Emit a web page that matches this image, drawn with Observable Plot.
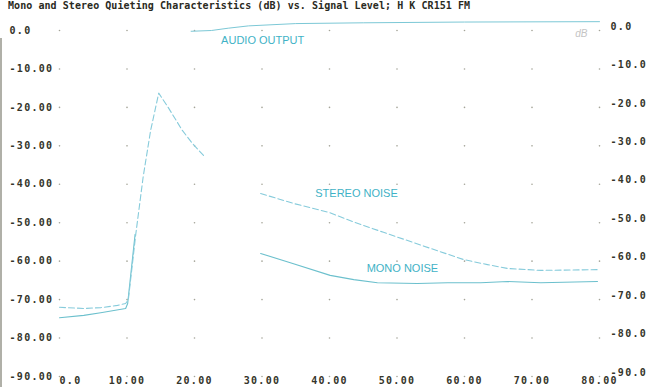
<!DOCTYPE html>
<html><head><meta charset="utf-8">
<script src="https://cdn.jsdelivr.net/npm/d3@7"></script>
<script src="https://cdn.jsdelivr.net/npm/@observablehq/plot@0.6"></script>
<style>
body{margin:0;background:#fff;width:650px;height:387px;overflow:hidden;position:relative}
#title{height:18px;line-height:19px;padding-left:8px;font:bold 10px "DejaVu Sans Mono",monospace;color:#2a2a22;white-space:nowrap;letter-spacing:0.06px}
svg{overflow:visible;display:block}
g[aria-label$="tick label"] text{letter-spacing:1.3px}
#edge{position:absolute;left:0;top:38px;width:1.5px;height:349px;background:#b0b0a8}
</style></head><body>
<div id="title">Mono and Stereo Quieting Characteristics (dB) vs. Signal Level; H K CR151 FM</div>
<div id="chart"></div>
<div id="edge"></div>
<script>
// tick values
const xTicks = [0, 10, 20, 30, 40, 50, 60, 70, 80];
const yTicks = [0, -10, -20, -30, -40, -50, -60, -70, -80, -90];

// Stereo noise (dashed) – NaN marks the faded gap in the print
const stereoX = [0, 3.6, 6.1, 8.6, 9.8, 10.2, 11.3, 12.4, 13.5, 14.7, 16.1, 18.2, 19.7, 21.6, 25, 29.8, 34.7, 39.9, 43.4, 48, 55, 59.9, 63.4, 66.4, 71.3, 79.7];
const stereoY = [-72, -72.3, -72.1, -71.5, -71, -70, -53, -38, -26, -16.3, -20, -26, -29.4, -33, NaN, -42.4, -45, -47.3, -49.7, -52.5, -56.7, -59.6, -60.9, -61.9, -62.4, -62.2];

// Mono noise (solid)
const monoX = [0, 3.6, 6.1, 9.8, 10.1, 11.2, 20, 29.8, 34.2, 40.1, 43.6, 47.1, 53, 57.5, 62.4, 66.4, 71.3, 79.7];
const monoY = [-74.7, -74.1, -73.4, -72.3, -71, -53, NaN, -58, -60.4, -63.7, -64.8, -65.6, -65.8, -65.6, -65.6, -65.3, -65.6, -65.3];

// Audio output
const audioX = [19.5, 22.5, 25, 28, 35, 45, 60, 80];
const audioY = [-0.2, 0, 0.6, 1.2, 1.8, 2.0, 2.2, 2.3];

// curve labels
const labelText = ["AUDIO OUTPUT", "STEREO NOISE", "MONO NOISE"];
const labelX = [30.1, 44, 50.8];
const labelY = [-2.6, -42.4, -62];

const stereo = stereoX.map((x, i) => ({x, y: stereoY[i]}));
const mono = monoX.map((x, i) => ({x, y: monoY[i]}));
const audio = audioX.map((x, i) => ({x, y: audioY[i]}));
const labels = labelText.map((t, i) => ({t, x: labelX[i], y: labelY[i]}));
const grid = xTicks.flatMap(x => yTicks.map(y => ({x, y})));

const tickFont = {fontFamily: "DejaVu Sans Mono", fontSize: 10, fontWeight: "bold", color: "#35352a"};

const chart = Plot.plot({
  width: 650, height: 369,
  marginTop: 12, marginRight: 51, marginBottom: 11, marginLeft: 59,
  x: {domain: [0, 80]},
  y: {domain: [-90, 0]},
  style: {background: "transparent", overflow: "visible"},
  marks: [
    Plot.dot(grid, {x: "x", y: "y", r: 0.8, fill: "#a4a498", stroke: null}),
    Plot.axisY(yTicks, {anchor: "left", tickSize: 0, tickPadding: 0, textAnchor: "start", dx: -50, label: null,
      tickFormat: d => d === 0 ? "0.0" : d.toFixed(2), ...tickFont}),
    Plot.axisY(yTicks, {anchor: "right", tickSize: 0, tickPadding: 11, dy: -4, label: null,
      tickFormat: d => d.toFixed(1), ...tickFont}),
    Plot.axisX(xTicks.filter(d => d !== 0), {anchor: "bottom", tickSize: 0, tickPadding: 0, label: null,
      tickFormat: d => d.toFixed(2), ...tickFont}),
    Plot.axisX([0], {anchor: "bottom", tickSize: 0, tickPadding: 0, textAnchor: "start", label: null,
      tickFormat: () => "0.0", ...tickFont}),
    Plot.line(audio, {x: "x", y: "y", stroke: "#7cc8d6", strokeWidth: 1}),
    Plot.line(mono, {x: "x", y: "y", stroke: "#6cc0cd", strokeWidth: 1.1}),
    Plot.line(stereo, {x: "x", y: "y", stroke: "#86cbdb", strokeWidth: 1.1, strokeDasharray: "6,3"}),
    Plot.text(labels, {x: "x", y: "y", text: "t", fill: "#3fb2c6", fontFamily: "Liberation Sans", fontSize: 11}),
    Plot.text(["dB"], {x: 77.3, y: -0.8, text: d => d, fill: "#c4c4c4", fontSize: 10, fontStyle: "italic", fontFamily: "Liberation Sans"})
  ]
});
document.getElementById("chart").append(chart);
</script>
</body></html>
